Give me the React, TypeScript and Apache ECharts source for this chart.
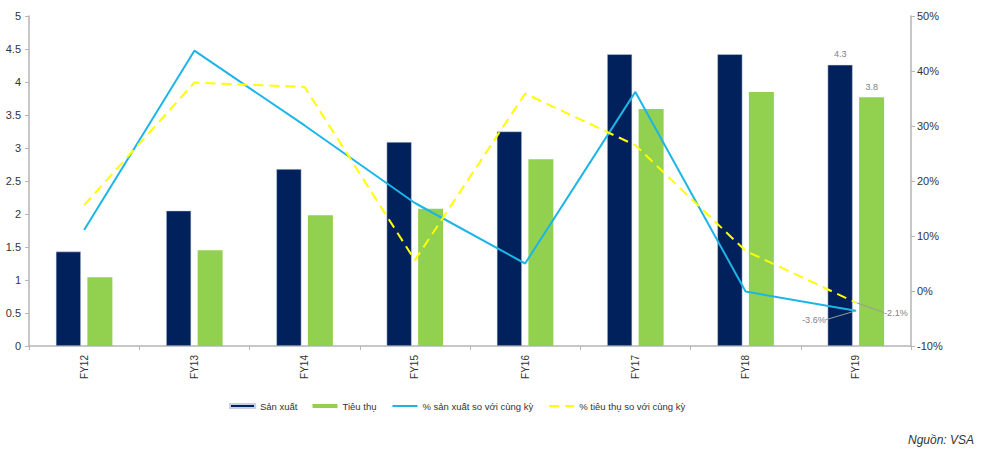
import React, { useEffect, useRef } from "react";
import * as echarts from "echarts";

const categories = ["FY12", "FY13", "FY14", "FY15", "FY16", "FY17", "FY18", "FY19"];
const sanXuat = [1.43, 2.05, 2.68, 3.09, 3.25, 4.42, 4.42, 4.26];
const tieuThu = [1.04, 1.45, 1.98, 2.08, 2.83, 3.59, 3.85, 3.77];
const sanXuatYoY = [11.1, 43.7, 30.1, 16.0, 5.0, 36.2, -0.1, -3.6];
const tieuThuYoY = [15.6, 37.9, 37.1, 5.6, 35.9, 26.5, 7.3, -2.1];
const leftTicks = { min: 0, max: 5, interval: 0.5 };
const rightTicks = { min: -10, max: 50, interval: 10 };

export default function App() {
  const ref = useRef<HTMLDivElement>(null);
  useEffect(() => {
    document.body.style.margin = "0";
    const chart = echarts.init(ref.current!, null, { renderer: "svg" });
    const font = "Liberation Sans, Arial, sans-serif";
    const axisColor = "#b5b5b5";
    const last = categories.length - 1;
    const lineLabel = (v: number, color: string) => ({
      value: v,
      symbol: "circle",
      symbolSize: 1,
      itemStyle: { color },
      label: { show: true, formatter: () => v.toFixed(1) + "%", fontSize: 9, color: "#7f7f7f", position: "inside" },
    });
    chart.setOption({
      animation: false,
      textStyle: { fontFamily: font },
      grid: { left: 29, right: 73, top: 16, bottom: 110, containLabel: false },
      legend: {
        left: 224,
        top: 396,
        itemGap: 15,
        itemWidth: 25,
        itemHeight: 4,
        textStyle: { fontSize: 9.5, color: "#333", fontFamily: font },
        data: [
          { name: "Sản xuất", icon: "rect" },
          { name: "Tiêu thụ", icon: "rect" },
          { name: "% sản xuất so với cùng kỳ", itemStyle: { opacity: 0 } },
          { name: "% tiêu thụ so với cùng kỳ", itemStyle: { opacity: 0 } },
        ],
      },
      xAxis: {
        type: "category",
        data: categories,
        axisLine: { lineStyle: { color: axisColor, width: 1.5 } },
        axisTick: { show: true, length: 4, lineStyle: { color: axisColor } },
        axisLabel: { rotate: 90, fontSize: 10, color: "#333", margin: 9 },
      },
      yAxis: [
        {
          type: "value",
          ...leftTicks,
          axisLine: { show: true, lineStyle: { color: axisColor, width: 1.5 } },
          axisTick: { show: true, length: 4, lineStyle: { color: axisColor } },
          axisLabel: { fontSize: 11, color: "#333", margin: 8 },
          splitLine: { show: false },
        },
        {
          type: "value",
          ...rightTicks,
          position: "right",
          axisLine: { show: true, lineStyle: { color: axisColor, width: 1.5 } },
          axisTick: { show: true, length: 4, lineStyle: { color: axisColor } },
          axisLabel: { fontSize: 11, color: "#333", margin: 6, formatter: "{value}%" },
          splitLine: { show: false },
        },
      ],
      series: [
        {
          name: "Sản xuất",
          type: "bar",
          barWidth: 25,
          barGap: "26%",
          itemStyle: { color: "#00215B", borderColor: "#c8d0e0", borderWidth: 0.5 },
          data: sanXuat.map((v, i) =>
            i === last
              ? { value: v, label: { show: true, position: "top", formatter: () => v.toFixed(1), fontSize: 9, color: "#7f7f7f", distance: 6 } }
              : v
          ),
        },
        {
          name: "Tiêu thụ",
          type: "bar",
          barWidth: 25,
          itemStyle: { color: "#92D050" },
          data: tieuThu.map((v, i) =>
            i === last
              ? { value: v, label: { show: true, position: "top", formatter: () => v.toFixed(1), fontSize: 9, color: "#7f7f7f", distance: 6 } }
              : v
          ),
        },
        {
          name: "% sản xuất so với cùng kỳ",
          type: "line",
          yAxisIndex: 1,
          symbol: "none",
          lineStyle: { color: "#1CB5E8", width: 2 },
          itemStyle: { color: "#1CB5E8" },
          data: sanXuatYoY.map((v, i) => (i === last ? lineLabel(v, "#1CB5E8") : v)),
          labelLayout: { dx: -42, dy: 9 },
          labelLine: { show: true, lineStyle: { color: "#9a9a9a", width: 1 } },
        },
        {
          name: "% tiêu thụ so với cùng kỳ",
          type: "line",
          yAxisIndex: 1,
          symbol: "none",
          lineStyle: { color: "#FFFF00", width: 2, type: [10, 6] },
          itemStyle: { color: "#FFFF00" },
          data: tieuThuYoY.map((v, i) => (i === last ? lineLabel(v, "#FFFF00") : v)),
          labelLayout: { dx: 40, dy: 10 },
          labelLine: { show: true, lineStyle: { color: "#9a9a9a", width: 1 } },
        },
      ],
      graphic: [
        {
          type: "text",
          right: 10,
          top: 434,
          style: { text: "Nguồn: VSA", fontSize: 12, fontStyle: "italic", fill: "#333", font: "italic 12px Liberation Sans, Arial, sans-serif" },
        },
      ],
    });
    return () => chart.dispose();
  }, []);
  return <div ref={ref} style={{ width: 984, height: 456 }} />;
}
